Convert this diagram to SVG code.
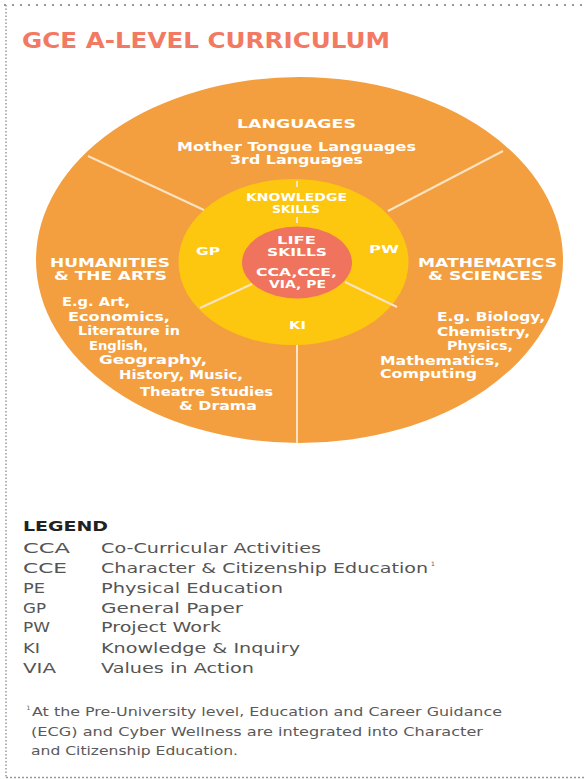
<svg xmlns="http://www.w3.org/2000/svg" width="586" height="779" viewBox="0 0 586 779">
<style>
.w{fill:#ffffff;font-family:"DejaVu Sans",sans-serif;font-weight:700}
.h{font-size:11.8px}
.b{font-size:12px}
.s{font-size:11px}
.lg{fill:#555555;font-family:"DejaVu Sans",sans-serif;font-size:13.7px}
.fn{fill:#5a5a5a;font-family:"DejaVu Sans",sans-serif;font-size:12.3px}
.sup{fill:#5a5a5a;font-family:"DejaVu Sans",sans-serif;font-size:6px}
.div{stroke:#FBE3C4;stroke-width:2;fill:none}
.dot{stroke:#999999;fill:none}
</style>
<rect x="0" y="0" width="586" height="779" fill="#ffffff"/>
<g id="border">
<line class="dot" x1="4" y1="5" x2="586" y2="5" stroke-width="2" stroke-dasharray="2 6"/>
<line class="dot" x1="6" y1="5" x2="6" y2="778" stroke-width="1.5" stroke-dasharray="1.5 2"/>
<line class="dot" x1="6" y1="777.5" x2="586" y2="777.5" stroke-width="1.5" stroke-dasharray="2 2"/>
</g>
<g id="title">
<text x="22" y="48" fill="#F27A63" font-family="DejaVu Sans,sans-serif" font-weight="700" font-size="20.5" textLength="368" lengthAdjust="spacingAndGlyphs">GCE A-LEVEL CURRICULUM</text>
</g>
<g id="outer-ring">
<ellipse cx="299.5" cy="260" rx="263.5" ry="183" fill="#F39F3F"/>
</g>
<g id="knowledge-ring">
<ellipse cx="293.5" cy="262" rx="115" ry="83" fill="#FDC60F"/>
</g>
<g id="life-core">
<ellipse cx="297" cy="262.5" rx="55" ry="36" fill="#F0735E"/>
</g>
<g id="connectors">
<line class="div" x1="88" y1="156" x2="204" y2="210"/>
<line class="div" x1="503" y1="151" x2="388" y2="211"/>
<line class="div" x1="297" y1="345" x2="297" y2="443"/>
<line class="div" x1="252" y1="284" x2="200" y2="308"/>
<line class="div" x1="345" y1="282" x2="397" y2="307"/>
<line class="div" x1="297" y1="181" x2="297" y2="187"/>
<line class="div" x1="297" y1="217" x2="297" y2="223"/>
</g>
<g id="languages">
<text class="w h" x="237" y="128" textLength="119" lengthAdjust="spacingAndGlyphs">LANGUAGES</text>
<text class="w b" x="177" y="151" textLength="239" lengthAdjust="spacingAndGlyphs">Mother Tongue Languages</text>
<text class="w b" x="230" y="164" textLength="133" lengthAdjust="spacingAndGlyphs">3rd Languages</text>
</g>
<g id="humanities">
<text class="w h" x="50" y="266.5" textLength="120" lengthAdjust="spacingAndGlyphs">HUMANITIES</text>
<text class="w h" x="54" y="279.5" textLength="113" lengthAdjust="spacingAndGlyphs">&amp; THE ARTS</text>
<text class="w b" x="62" y="306" textLength="68" lengthAdjust="spacingAndGlyphs">E.g. Art,</text>
<text class="w b" x="68" y="321" textLength="102" lengthAdjust="spacingAndGlyphs">Economics,</text>
<text class="w b" x="78" y="335" textLength="102" lengthAdjust="spacingAndGlyphs">Literature in</text>
<text class="w b" x="89" y="350" textLength="59" lengthAdjust="spacingAndGlyphs">English,</text>
<text class="w b" x="99" y="364" textLength="108" lengthAdjust="spacingAndGlyphs">Geography,</text>
<text class="w b" x="119" y="379" textLength="124" lengthAdjust="spacingAndGlyphs">History, Music,</text>
<text class="w b" x="140" y="396" textLength="133" lengthAdjust="spacingAndGlyphs">Theatre Studies</text>
<text class="w b" x="179" y="410" textLength="78" lengthAdjust="spacingAndGlyphs">&amp; Drama</text>
</g>
<g id="mathematics">
<text class="w h" x="418" y="267" textLength="139" lengthAdjust="spacingAndGlyphs">MATHEMATICS</text>
<text class="w h" x="428" y="280" textLength="115" lengthAdjust="spacingAndGlyphs">&amp; SCIENCES</text>
<text class="w b" x="437" y="321" textLength="108" lengthAdjust="spacingAndGlyphs">E.g. Biology,</text>
<text class="w b" x="437" y="336" textLength="93" lengthAdjust="spacingAndGlyphs">Chemistry,</text>
<text class="w b" x="447" y="350" textLength="66" lengthAdjust="spacingAndGlyphs">Physics,</text>
<text class="w b" x="380" y="365" textLength="120" lengthAdjust="spacingAndGlyphs">Mathematics,</text>
<text class="w b" x="380" y="378" textLength="97" lengthAdjust="spacingAndGlyphs">Computing</text>
</g>
<g id="knowledge-skills">
<text class="w s" x="246" y="201" textLength="101" lengthAdjust="spacingAndGlyphs">KNOWLEDGE</text>
<text class="w s" x="272" y="213" textLength="48" lengthAdjust="spacingAndGlyphs">SKILLS</text>
</g>
<g id="gp">
<text class="w s" x="196" y="255" textLength="24" lengthAdjust="spacingAndGlyphs">GP</text>
</g>
<g id="pw">
<text class="w s" x="369" y="253" textLength="30" lengthAdjust="spacingAndGlyphs">PW</text>
</g>
<g id="ki">
<text class="w s" x="289" y="329" textLength="17" lengthAdjust="spacingAndGlyphs">KI</text>
</g>
<g id="life-skills">
<text class="w s" x="277" y="244" textLength="39" lengthAdjust="spacingAndGlyphs">LIFE</text>
<text class="w s" x="267" y="256" textLength="60" lengthAdjust="spacingAndGlyphs">SKILLS</text>
<text class="w s" x="256" y="276" textLength="81" lengthAdjust="spacingAndGlyphs">CCA,CCE,</text>
<text class="w s" x="269" y="288" textLength="57" lengthAdjust="spacingAndGlyphs">VIA, PE</text>
</g>
<g id="legend">
<text x="23" y="531" fill="#222222" font-family="DejaVu Sans,sans-serif" font-weight="700" font-size="13.7" textLength="85" lengthAdjust="spacingAndGlyphs">LEGEND</text>
<text class="lg" x="23" y="553" textLength="47" lengthAdjust="spacingAndGlyphs">CCA</text>
<text class="lg" x="101" y="553" textLength="220" lengthAdjust="spacingAndGlyphs">Co-Curricular Activities</text>
<text class="lg" x="23" y="573" textLength="44" lengthAdjust="spacingAndGlyphs">CCE</text>
<text class="lg" x="101" y="573" textLength="327" lengthAdjust="spacingAndGlyphs">Character &amp; Citizenship Education</text>
<text class="sup" x="431" y="566">1</text>
<text class="lg" x="23" y="593" textLength="22" lengthAdjust="spacingAndGlyphs">PE</text>
<text class="lg" x="101" y="593" textLength="182" lengthAdjust="spacingAndGlyphs">Physical Education</text>
<text class="lg" x="23" y="613" textLength="23" lengthAdjust="spacingAndGlyphs">GP</text>
<text class="lg" x="101" y="613" textLength="142" lengthAdjust="spacingAndGlyphs">General Paper</text>
<text class="lg" x="23" y="632" textLength="27" lengthAdjust="spacingAndGlyphs">PW</text>
<text class="lg" x="101" y="632" textLength="120" lengthAdjust="spacingAndGlyphs">Project Work</text>
<text class="lg" x="23" y="653" textLength="17" lengthAdjust="spacingAndGlyphs">KI</text>
<text class="lg" x="101" y="653" textLength="199" lengthAdjust="spacingAndGlyphs">Knowledge &amp; Inquiry</text>
<text class="lg" x="23" y="673" textLength="33" lengthAdjust="spacingAndGlyphs">VIA</text>
<text class="lg" x="101" y="673" textLength="153" lengthAdjust="spacingAndGlyphs">Values in Action</text>
</g>
<g id="footnote">
<text class="sup" x="26.5" y="710">1</text>
<text class="fn" x="32" y="716" textLength="470" lengthAdjust="spacingAndGlyphs">At the Pre-University level, Education and Career Guidance</text>
<text class="fn" x="31" y="736" textLength="452" lengthAdjust="spacingAndGlyphs">(ECG) and Cyber Wellness are integrated into Character</text>
<text class="fn" x="31" y="755" textLength="207" lengthAdjust="spacingAndGlyphs">and Citizenship Education.</text>
</g>
</svg>
